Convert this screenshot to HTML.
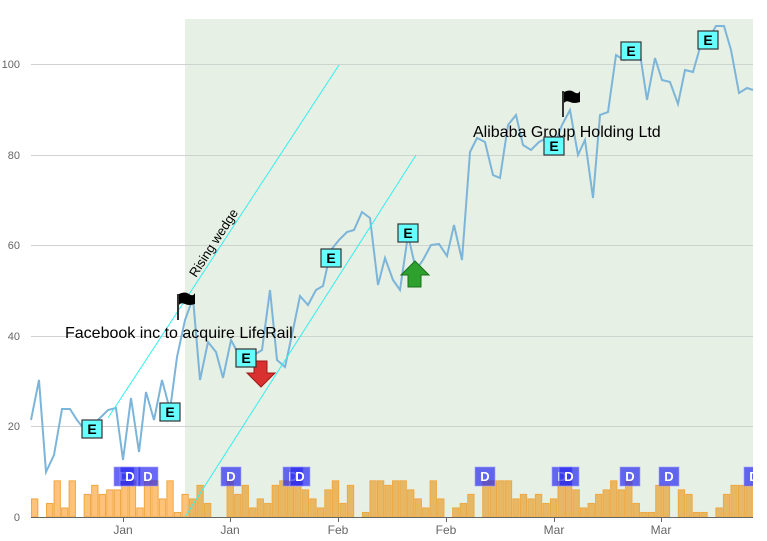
<!DOCTYPE html>
<html><head><meta charset="utf-8"><style>
html,body{margin:0;padding:0;background:#fff;}
svg{display:block;font-family:"Liberation Sans",sans-serif;}
</style></head><body>
<svg id="s" width="767" height="541" xmlns="http://www.w3.org/2000/svg">
<defs><clipPath id="cp"><rect x="0" y="0" width="753" height="541"/></clipPath></defs>
<rect x="185" y="19" width="568" height="498" fill="#e6f0e4"/>
<g stroke="#cfd3cf" stroke-width="1">
<line x1="31" y1="64.5" x2="753" y2="64.5"/><line x1="31" y1="155.5" x2="753" y2="155.5"/>
<line x1="31" y1="245.5" x2="753" y2="245.5"/><line x1="31" y1="336.5" x2="753" y2="336.5"/>
<line x1="31" y1="426.5" x2="753" y2="426.5"/>
</g>
<g font-size="11" fill="#666" text-anchor="end">
<text x="20" y="68">100</text><text x="20" y="159">80</text><text x="20" y="249">60</text>
<text x="20" y="340">40</text><text x="20" y="430">20</text><text x="20" y="521">0</text>
</g>
<g id="bars"></g>
<line x1="31" y1="517.5" x2="753" y2="517.5" stroke="#666"/>
<g stroke="#666"><line x1="123.5" y1="517" x2="123.5" y2="522"/><line x1="230.5" y1="517" x2="230.5" y2="522"/><line x1="338.5" y1="517" x2="338.5" y2="522"/><line x1="446.5" y1="517" x2="446.5" y2="522"/><line x1="554.5" y1="517" x2="554.5" y2="522"/><line x1="661.5" y1="517" x2="661.5" y2="522"/></g>
<g font-size="12" fill="#666" text-anchor="middle">
<text x="123" y="534">Jan</text><text x="230" y="534">Jan</text><text x="338" y="534">Feb</text><text x="446" y="534">Feb</text><text x="554" y="534">Mar</text><text x="661" y="534">Mar</text>
</g>
<polyline id="ln" fill="none" stroke="#7cb5d9" stroke-width="2"/>
<g stroke="#33f0f0" stroke-width="1"><line x1="108" y1="418" x2="339" y2="65"/><line x1="185" y1="517" x2="416" y2="155"/></g>
<text transform="translate(196,278) rotate(-57)" font-size="13">Rising wedge</text>
<text x="65" y="338" font-size="16">Facebook inc to acquire LifeRail.</text>
<text x="473" y="137" font-size="16">Alibaba Group Holding Ltd</text>
<g><line x1="178" y1="294" x2="178" y2="320" stroke="#333" stroke-width="2"/><path d="M179,294 q6,-3 10,0 t6,-1 v11 q-6,2 -10,0 t-6,1z" fill="#000"/></g>
<g><line x1="563" y1="91" x2="563" y2="117" stroke="#333" stroke-width="2"/><path d="M564,92 q6,-3 10,0 t6,-1 v11 q-6,2 -10,0 t-6,1z" fill="#000"/></g>
<path d="M254,361 h13 v12 h8 l-14,14 l-14,-14 h7z" fill="#d93030" stroke="#a01818"/>
<path d="M408,287 h13 v-12 h8 l-14,-14 l-14,14 h7z" fill="#2ea02e" stroke="#1a701a"/>
<g id="ev"></g>
<g id="dd" clip-path="url(#cp)"></g>
</svg>
<script>
var NS="http://www.w3.org/2000/svg";
function el(t,a,p,txt){var e=document.createElementNS(NS,t);for(var k in a)e.setAttribute(k,a[k]);if(txt)e.textContent=txt;document.getElementById(p).appendChild(e);return e;}
var b1=[4,0,3,8,2,8,0,5,7,5,6,6,8,8,2,8,8,4,8,1,5,4,7,3,0,0,8,5,7,2,4,3,7,8,8,8,6,4,2,6,8,3,7,0,1,8,8];
var b2=[7,8,8,6,4,2,8,4,0,2,3,5,0,8,8,8,8,4,5,4,5,3,4,8,8,6,2,3,5,6,8,6,8,3,1,1,7,7,0,6,5,1,1,0,2,5,7,7,7];
var bars=b1.concat(b2);var w=(753-31)/bars.length;
bars.forEach(function(v,i){if(!v)return;var x=31+i*w,h=v*4.52;el("rect",{x:x+0.5,y:517-h,width:w-1.2,height:h,fill:x<185?"#ffc27a":"#e6b866",stroke:"#f0a840","stroke-width":1},"bars");});
var pts="31,420 39,380 46,472 54,455 62,409 70,409 77,420 85,430 93,425 100,418 108,410 116,408 123,460 131,398 139,452 146,392 154,420 162,380 170,410 177,357 185,320 193,298 200,380 208,342 216,352 223,378 231,340 239,355 247,360 254,355 262,350 270,290 277,360 285,367 293,330 300,296 308,305 316,290 323,286 331,250 339,240 347,232 354,230 362,212 370,218 378,285 385,258 393,280 400,290 408,235 416,270 423,260 431,245 439,244 447,256 454,225 462,260 470,152 477,138 485,142 493,175 500,178 508,125 516,115 523,145 531,150 539,142 547,138 554,147 562,125 570,110 578,155 585,140 593,198 600,115 608,112 616,55 624,60 631,50 639,47 647,100 655,58 662,80 670,82 678,104 685,70 693,72 701,44 708,40 716,26 724,26 731,50 739,93 747,88 753,90";
document.getElementById("ln").setAttribute("points",pts);
[[92,429],[170,412],[246,358],[331,258],[408,233],[554,146],[631,51],[708,40]].forEach(function(p){
el("rect",{x:p[0]-10,y:p[1]-9,width:20,height:18,fill:"#66ffff",stroke:"#333","stroke-width":1.2},"ev");
el("text",{x:p[0],y:p[1]+5,"text-anchor":"middle","font-size":14,"font-weight":"bold"},"ev","E");});
[114,120,138,221,283,290,475,552,559,620,659,744].forEach(function(x){
el("rect",{x:x,y:467,width:20,height:19,fill:"rgba(40,40,240,0.7)",stroke:"rgba(160,160,255,0.6)"},"dd");
el("text",{x:x+10,y:481,"text-anchor":"middle","font-size":13,"font-weight":"bold",fill:"#fff"},"dd","D");});
</script>
</body></html>
